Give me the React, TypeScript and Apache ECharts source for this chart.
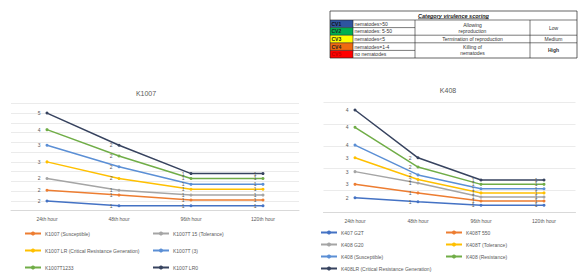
import React, { useEffect, useRef } from "react";
import * as echarts from "echarts";

const hours = ["24th hour", "48th hour", "96th hour", "120th hour"];

// K1007 chart (plotted positions) and their point labels
const k1007Names = [
  "K1007 LR0",
  "K1007T1233",
  "K1007T (3)",
  "K1007 LR (Critical Resistance Generation)",
  "K1007T 15 (Tolerance)",
  "K1007 (Susceptible)",
  "K1007 G1",
];
const k1007Values = [
  [10.0, 6.7, 3.8, 3.8],
  [8.3, 5.6, 3.3, 3.3],
  [6.7, 4.5, 2.7, 2.7],
  [5.0, 3.3, 2.2, 2.2],
  [3.3, 2.1, 1.6, 1.6],
  [2.1, 1.6, 1.1, 1.1],
  [1.0, 0.5, 0.5, 0.5],
];
const k1007Labels = [
  ["5", "2", "1", "1"],
  ["4", "2", "1", "1"],
  ["3", "2", "1", "1"],
  ["3", "2", "1", "1"],
  ["2", "1", "1", "1"],
  ["2", "1", "1", "1"],
  ["2", "1", "1", "1"],
];

// K408 chart
const k408Names = [
  "K408LR (Critical Resistance Generation)",
  "K408 (Resistance)",
  "K408 (Susceptible)",
  "K408T (Tolerance)",
  "K408 G20",
  "K408T 550",
  "K407 G2T",
];
const k408Values = [
  [4.65, 2.47, 1.46, 1.46],
  [3.86, 2.05, 1.26, 1.26],
  [3.05, 1.69, 1.06, 1.06],
  [2.47, 1.48, 0.87, 0.87],
  [1.84, 1.32, 0.68, 0.68],
  [1.26, 0.87, 0.5, 0.5],
  [0.65, 0.47, 0.31, 0.31],
];
const k408Labels = [
  ["4", "2", "1", "1"],
  ["4", "2", "1", "1"],
  ["4", "2", "1", "1"],
  ["3", "2", "1", "1"],
  ["3", "1", "1", "1"],
  ["3", "1", "1", "1"],
  ["2", "1", "1", "1"],
];

const lineColors = ["#37435f", "#70AD47", "#5B8FD5", "#FFC000", "#A5A5A5", "#ED7D31", "#4472C4"];

// legend layout: [seriesName, x, y]
const leftLegend: [string, number, number][] = [
  ["K1007 (Susceptible)", 24, 234],
  ["K1007T 15 (Tolerance)", 152, 234],
  ["K1007 LR (Critical Resistance Generation)", 24, 251],
  ["K1007T (3)", 152, 251],
  ["K1007T1233", 24, 268],
  ["K1007 LR0", 152, 268],
];
const rightLegend: [string, number, number][] = [
  ["K407 G2T", 320, 233],
  ["K408T 550", 445, 233],
  ["K408 G20", 320, 245],
  ["K408T (Tolerance)", 445, 245],
  ["K408 (Susceptible)", 320, 257],
  ["K408 (Resistance)", 445, 257],
  ["K408LR (Critical Resistance Generation)", 320, 269],
];

// virulence table
const tableHeader = "Category virulence scoring";
const cvCodes = ["CV1", "CV2", "CV3", "CV4", "CV5"];
const cvColors = ["#2E54A0", "#00B050", "#FFFF00", "#F06A10", "#FF0000"];
const cvConditions = ["nematodes>50", "nematodes: 5-50", "nematodes<5", "nematodes=1-4", "no nematodes"];
const cvDescriptions: [string, number, number][] = [
  ["Allowing\nreproduction", 0, 2],
  ["Termination of reproduction", 2, 1],
  ["Killing of\nnematodes", 3, 2],
];
const cvLevels: [string, number, number][] = [
  ["Low", 0, 2],
  ["Medium", 2, 1],
  ["High", 3, 2],
];

function buildTable() {
  const x0 = 330, x1 = 353, x2 = 415, x3 = 530, x4 = 577;
  const top = 11, headH = 9, rowH = 7.6;
  const y0 = top + headH;
  const bottom = y0 + rowH * 5;
  const els: any[] = [];
  const ln = (xa: number, ya: number, xb: number, yb: number) =>
    els.push({ type: "line", shape: { x1: xa, y1: ya, x2: xb, y2: yb }, style: { stroke: "#222", lineWidth: 0.6 }, z: 20 });
  cvCodes.forEach((c, i) => {
    els.push({ type: "rect", shape: { x: x0, y: y0 + i * rowH, width: x1 - x0, height: rowH }, style: { fill: cvColors[i] }, z: 10 });
    els.push({ type: "text", x: x0 + 1.5, y: y0 + i * rowH + rowH / 2, style: { text: c, fontSize: 5, fontWeight: "bold", fill: i === 0 ? "#111" : i === 4 ? "#c00000" : "#222", verticalAlign: "middle", fontFamily: "Liberation Sans" }, z: 21 });
    els.push({ type: "text", x: x1 + 1.5, y: y0 + i * rowH + rowH / 2, style: { text: cvConditions[i], fontSize: 5, fill: "#333", verticalAlign: "middle", fontFamily: "Liberation Sans" }, z: 21 });
    if (i > 0) ln(x0, y0 + i * rowH, x2, y0 + i * rowH);
  });
  cvDescriptions.forEach(([t, s, n]) => {
    els.push({ type: "text", x: (x2 + x3) / 2, y: y0 + (s + n / 2) * rowH, style: { text: t, fontSize: 5, fill: "#333", align: "center", verticalAlign: "middle", lineHeight: 6, fontFamily: "Liberation Sans" }, z: 21 });
    if (s > 0) ln(x2, y0 + s * rowH, x4, y0 + s * rowH);
  });
  cvLevels.forEach(([t, s, n]) => {
    els.push({ type: "text", x: (x3 + x4) / 2, y: y0 + (s + n / 2) * rowH, style: { text: t, fontSize: 5, fill: "#333", align: "center", verticalAlign: "middle", fontWeight: t === "High" ? "bold" : "normal", fontFamily: "Liberation Sans" }, z: 21 });
  });
  els.push({ type: "text", x: (x0 + x4) / 2, y: top + headH / 2, style: { text: tableHeader, fontSize: 5.5, fontStyle: "italic", fontWeight: "bold", fill: "#222", align: "center", verticalAlign: "middle", fontFamily: "Liberation Sans" }, z: 21 });
  ln(418, top + headH / 2 + 3.2, 489, top + headH / 2 + 3.2);
  els.push({ type: "rect", shape: { x: x0, y: top, width: x4 - x0, height: bottom - top }, style: { fill: "none", stroke: "#222", lineWidth: 0.7 }, z: 20 });
  ln(x0, y0, x4, y0);
  ln(x1, y0, x1, bottom);
  ln(x2, y0, x2, bottom);
  ln(x3, y0, x3, bottom);
  return els;
}

function mkSeries(name: string, data: number[], labels: string[], color: string, idx: number) {
  return {
    type: "line",
    name,
    xAxisIndex: idx,
    yAxisIndex: idx,
    data,
    symbol: "circle",
    symbolSize: 3,
    lineStyle: { width: 1.5, color },
    itemStyle: { color },
    label: {
      show: true,
      position: "left",
      distance: 5,
      fontSize: 5,
      color: "#595959",
      formatter: (p: any) => labels[p.dataIndex],
    },
  };
}

export default function App() {
  const ref = useRef<HTMLDivElement>(null);
  useEffect(() => {
    if (!ref.current) return;
    const chart = echarts.init(ref.current, undefined, { renderer: "svg" });
    const xAxisBase = {
      type: "category",
      data: hours,
      boundaryGap: true,
      axisTick: { show: false },
      axisLine: { lineStyle: { color: "#d9d9d9" } },
      axisLabel: { fontSize: 5, color: "#595959", margin: 6 },
    };
    const yAxisBase = {
      type: "value",
      axisLabel: { show: false },
      axisLine: { show: false },
      axisTick: { show: false },
      splitLine: { lineStyle: { color: "#e6e6e6", width: 0.8 } },
    };
    const legends = [...leftLegend, ...rightLegend].map(([n, x, y]) => ({
      data: [n],
      left: x,
      top: y - 3,
      padding: 0,
      itemWidth: 16,
      itemHeight: 5,
      itemGap: 0,
      textStyle: { fontSize: 5, color: "#595959", padding: [0, 0, 0, -1] },
    }));
    chart.setOption({
      animation: false,
      backgroundColor: "#ffffff",
      textStyle: { fontFamily: "Liberation Sans" },
      grid: [
        { left: 11, width: 288, top: 103.3, height: 107.4 },
        { left: 323.5, width: 252, top: 102.3, height: 109.7 },
      ],
      xAxis: [
        { ...xAxisBase, gridIndex: 0 },
        { ...xAxisBase, gridIndex: 1 },
      ],
      yAxis: [
        { ...yAxisBase, gridIndex: 0, min: 0, max: 11, interval: 1 },
        { ...yAxisBase, gridIndex: 1, min: 0, max: 5, interval: 1 },
      ],
      legend: legends,
      series: [
        ...k1007Names.map((n, i) => mkSeries(n, k1007Values[i], k1007Labels[i], lineColors[i], 0)),
        ...k408Names.map((n, i) => mkSeries(n, k408Values[i], k408Labels[i], lineColors[i], 1)),
      ],
      graphic: [
        { type: "text", x: 146, y: 93, style: { text: "K1007", fontSize: 7, fill: "#595959", align: "center", verticalAlign: "middle", fontFamily: "Liberation Sans" } },
        { type: "text", x: 448, y: 90, style: { text: "K408", fontSize: 7, fill: "#595959", align: "center", verticalAlign: "middle", fontFamily: "Liberation Sans" } },
        ...buildTable(),
      ],
    });
    return () => chart.dispose();
  }, []);
  return <div ref={ref} style={{ position: "fixed", left: 0, top: 0, width: 578, height: 272 }} />;
}
